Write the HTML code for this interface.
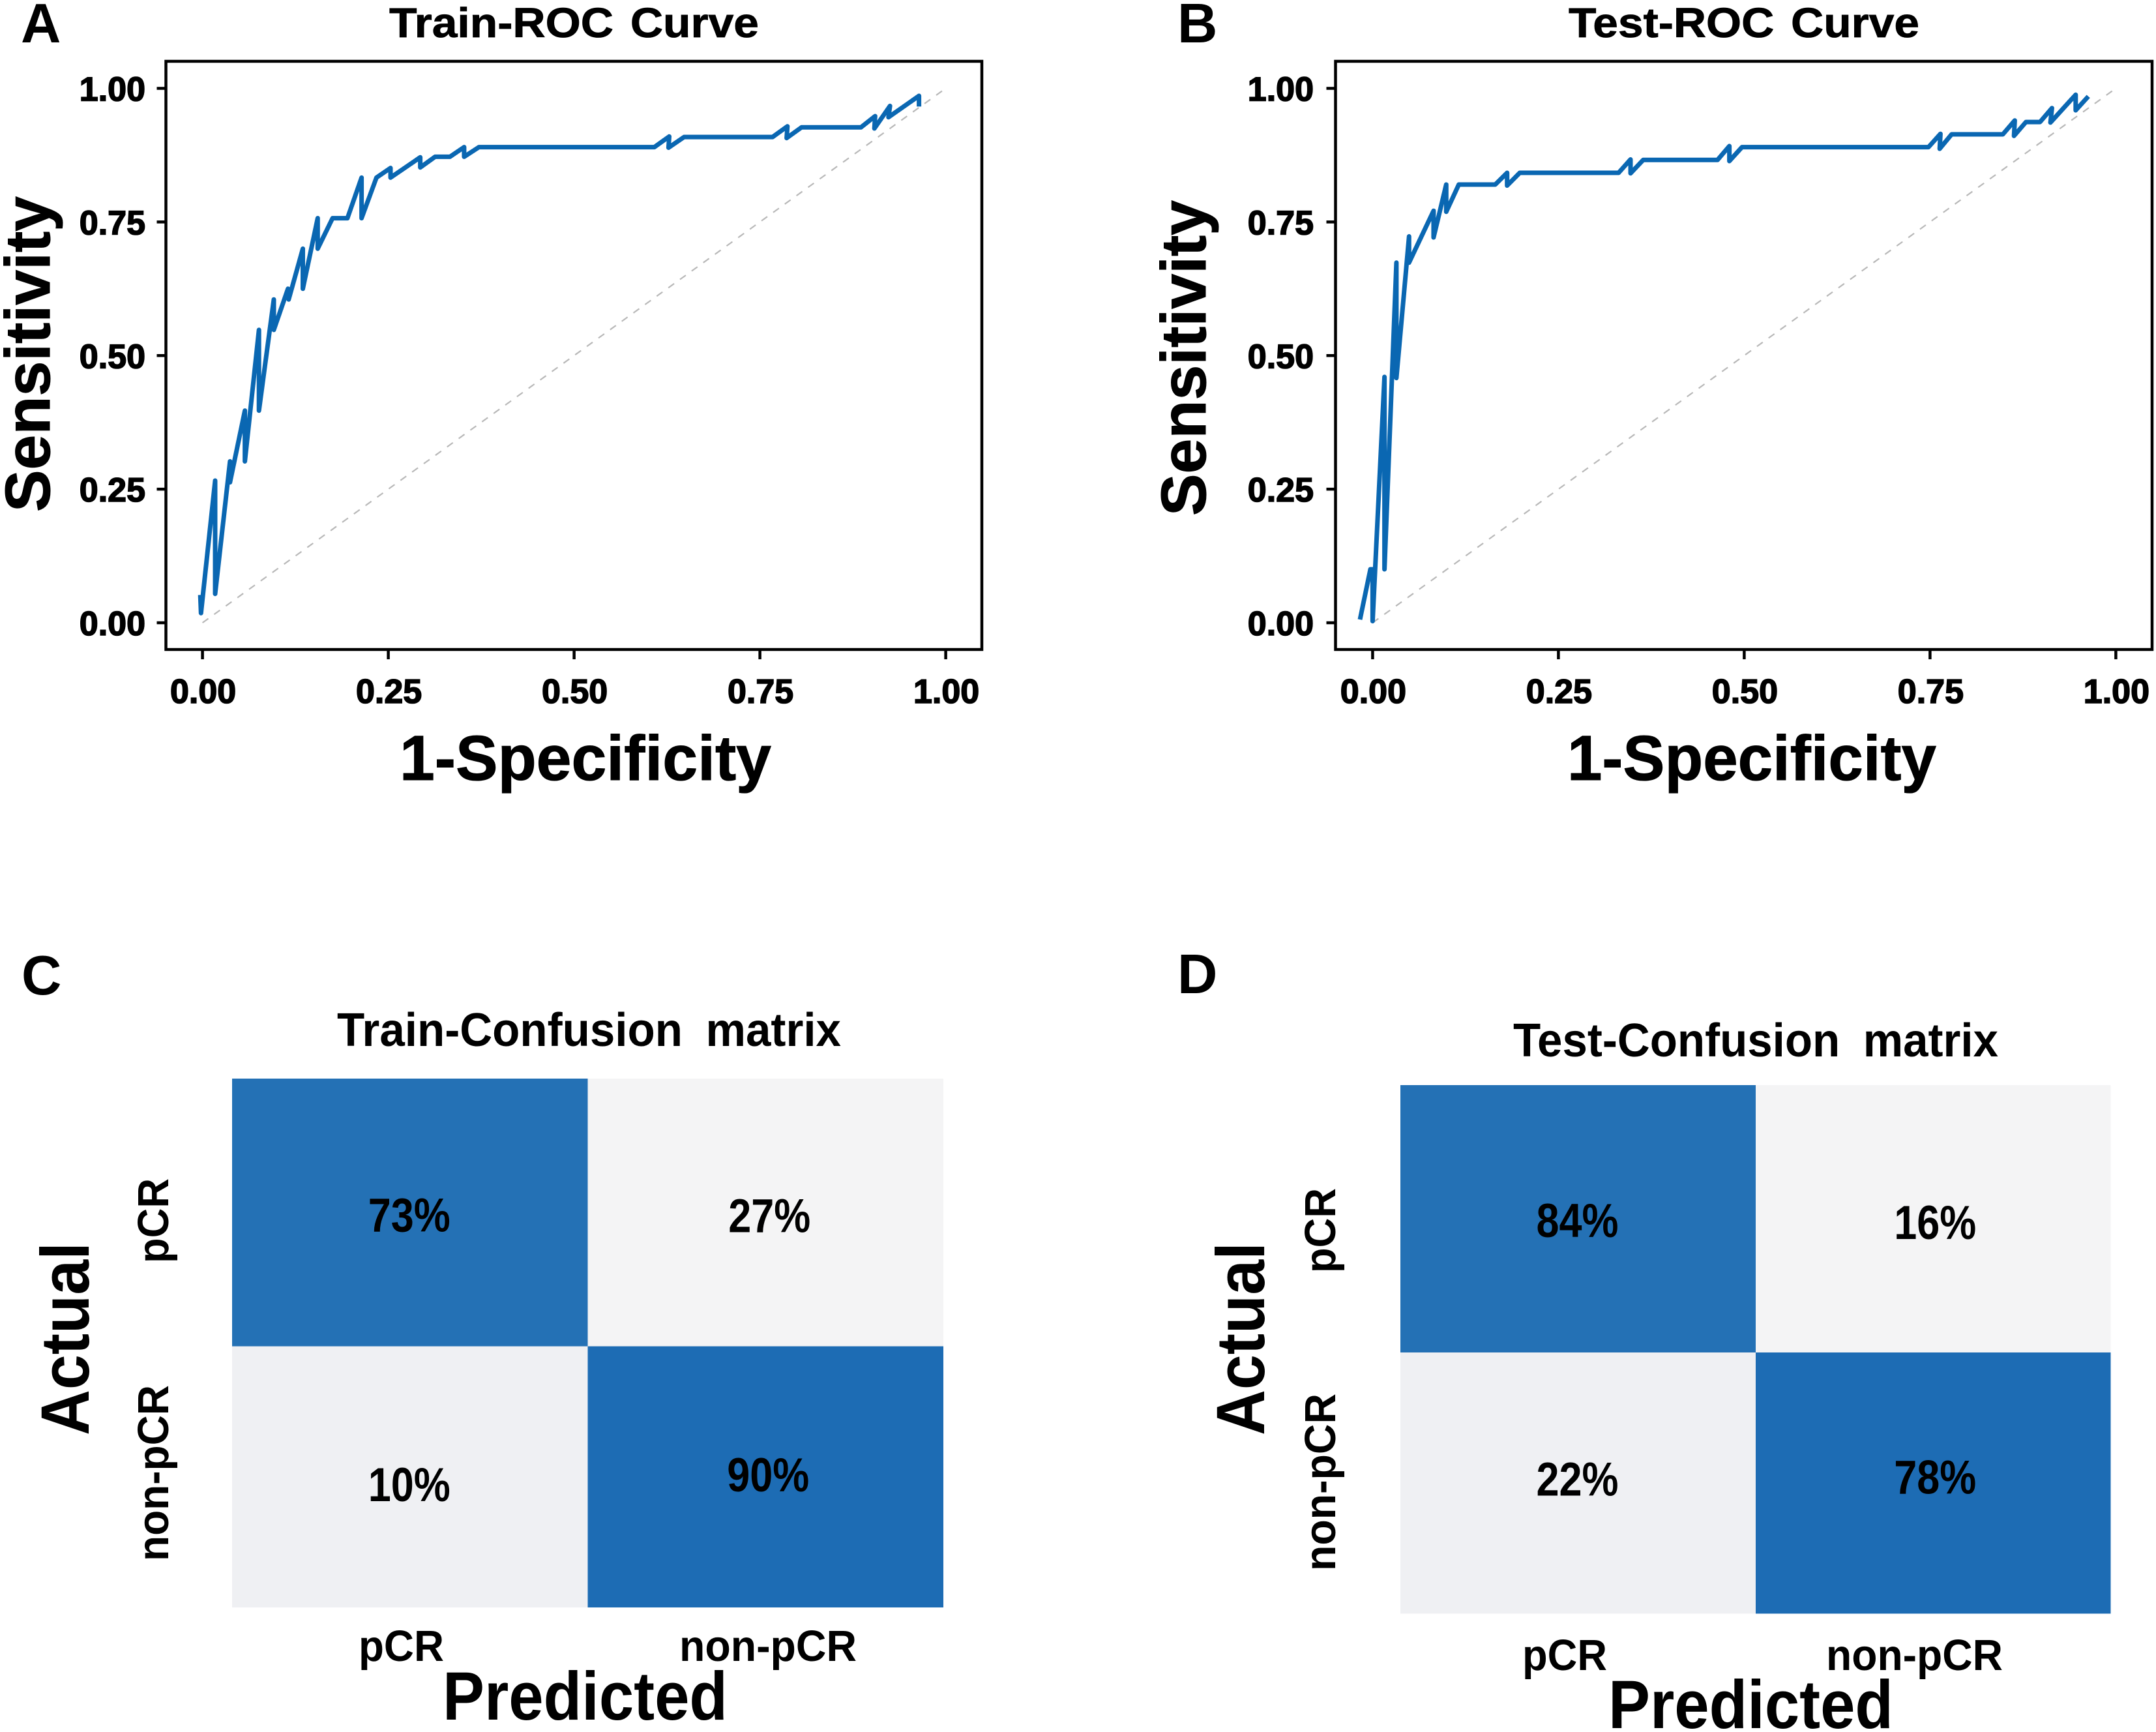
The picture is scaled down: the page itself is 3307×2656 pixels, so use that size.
<!DOCTYPE html>
<html lang="en">
<head>
<meta charset="utf-8">
<title>ROC curves and confusion matrices</title>
<style>
html,body{margin:0;padding:0;background:#fff;width:3307px;height:2656px;overflow:hidden}
svg{display:block}
text{font-family:"Liberation Sans",sans-serif;font-weight:bold;fill:#000}
.tick{font-size:52px;stroke:#000;stroke-width:1.6px}
.title{font-size:64px;stroke:#000;stroke-width:.8px;word-spacing:6px}
.axis{font-size:97px;stroke:#000;stroke-width:1px}
.auc{font-size:79px;stroke:#000;stroke-width:1px}
.letter{font-size:85px}
.mtitle{font-size:72px;word-spacing:17px}
.cellv{font-size:73px}
.mlabel{font-size:67px}
.mx{font-size:105px}
</style>
</head>
<body>
<svg id="fig" xmlns="http://www.w3.org/2000/svg" width="3307" height="2656" viewBox="0 0 3307 2656">
  <rect x="0" y="0" width="3307" height="2656" fill="#fff"/>

  <text class="letter" x="32" y="65">A</text>
  <text class="letter" x="1806" y="65">B</text>
  <text class="letter" x="33" y="1525">C</text>
  <text class="letter" x="1806" y="1523">D</text>

  <text class="title" x="597" y="57" textLength="567" lengthAdjust="spacingAndGlyphs">Train-ROC Curve</text>
  <text class="title" x="2406" y="57" textLength="538" lengthAdjust="spacingAndGlyphs">Test-ROC Curve</text>

  <text class="axis" transform="translate(76,785) rotate(-90)" textLength="484" lengthAdjust="spacingAndGlyphs">Sensitivity</text>
  <text class="axis" transform="translate(1849,791) rotate(-90)" textLength="484" lengthAdjust="spacingAndGlyphs">Sensitivity</text>
  <text class="axis" x="613" y="1196" textLength="570" lengthAdjust="spacingAndGlyphs">1-Specificity</text>
  <text class="axis" x="2404" y="1196" textLength="566" lengthAdjust="spacingAndGlyphs">1-Specificity</text>

  <text class="auc" x="877" y="815" textLength="373" lengthAdjust="spacingAndGlyphs">AUC=0.82</text>
  <text class="auc" x="2674" y="827" textLength="373" lengthAdjust="spacingAndGlyphs">AUC=0.85</text>

  <text class="mtitle" x="517" y="1604" textLength="773" lengthAdjust="spacingAndGlyphs">Train-Confusion matrix</text>
  <text class="mtitle" x="2321" y="1620" textLength="744" lengthAdjust="spacingAndGlyphs">Test-Confusion matrix</text>

  <text class="mx" x="679" y="2637" textLength="437" lengthAdjust="spacingAndGlyphs">Predicted</text>
  <text class="mx" x="2467" y="2650" textLength="437" lengthAdjust="spacingAndGlyphs">Predicted</text>
  <text class="mx" transform="translate(136,2201) rotate(-90)" textLength="296" lengthAdjust="spacingAndGlyphs">Actual</text>
  <text class="mx" transform="translate(1939,2201) rotate(-90)" textLength="296" lengthAdjust="spacingAndGlyphs">Actual</text>

  <text class="mlabel" x="550" y="2547" textLength="131" lengthAdjust="spacingAndGlyphs">pCR</text>
  <text class="mlabel" x="1042" y="2547" textLength="272" lengthAdjust="spacingAndGlyphs">non-pCR</text>
  <text class="mlabel" x="2335" y="2561" textLength="130" lengthAdjust="spacingAndGlyphs">pCR</text>
  <text class="mlabel" x="2801" y="2561" textLength="271" lengthAdjust="spacingAndGlyphs">non-pCR</text>
  <text class="mlabel" transform="translate(258,1937) rotate(-90)" textLength="130" lengthAdjust="spacingAndGlyphs">pCR</text>
  <text class="mlabel" transform="translate(258,2394) rotate(-90)" textLength="270" lengthAdjust="spacingAndGlyphs">non-pCR</text>
  <text class="mlabel" transform="translate(2048,1952) rotate(-90)" textLength="130" lengthAdjust="spacingAndGlyphs">pCR</text>
  <text class="mlabel" transform="translate(2048,2409) rotate(-90)" textLength="272" lengthAdjust="spacingAndGlyphs">non-pCR</text>

  <g id="marks"></g>
</svg>

<script>
// ---- chart data ----
const tickValues = [0, 0.25, 0.5, 0.75, 1];
const tickLabels = ["0.00", "0.25", "0.50", "0.75", "1.00"];

const trainFpr = [-0.003,-0.002,0.017,0.017,0.037,0.037,0.057,0.057,0.076,0.076,0.096,0.096,0.115,0.116,0.135,0.135,0.155,0.155,0.175,0.195,0.214,0.214,0.234,0.253,0.253,0.293,0.293,0.313,0.333,0.352,0.352,0.372,0.608,0.628,0.627,0.648,0.767,0.787,0.786,0.806,0.886,0.905,0.904,0.925,0.923,0.964,0.964];
const trainTpr = [0.052,0.018,0.266,0.054,0.302,0.263,0.397,0.302,0.548,0.397,0.605,0.548,0.625,0.605,0.700,0.625,0.757,0.700,0.757,0.757,0.833,0.757,0.833,0.851,0.833,0.871,0.852,0.872,0.872,0.890,0.872,0.890,0.890,0.910,0.889,0.909,0.909,0.929,0.907,0.927,0.927,0.948,0.925,0.967,0.946,0.986,0.966];

const testFpr = [-0.017,-0.003,0.000,0.000,0.016,0.016,0.032,0.032,0.049,0.049,0.082,0.082,0.099,0.099,0.116,0.165,0.181,0.181,0.198,0.331,0.347,0.347,0.364,0.464,0.480,0.480,0.497,0.748,0.764,0.763,0.779,0.848,0.864,0.863,0.879,0.898,0.914,0.912,0.946,0.946,0.963];
const testTpr = [0.006,0.100,0.100,0.003,0.460,0.100,0.674,0.458,0.723,0.674,0.771,0.721,0.820,0.769,0.820,0.820,0.842,0.818,0.842,0.842,0.867,0.841,0.866,0.866,0.892,0.864,0.890,0.890,0.915,0.887,0.914,0.914,0.940,0.911,0.937,0.937,0.963,0.936,0.988,0.959,0.985];

const trainMatrixValues = [73, 27, 10, 90];
const testMatrixValues = [84, 16, 22, 78];

// ---- layout ----
const rocA = {frame:[254.5,94,1506,996], x0:310.6, x1:1450.6, y0:955, y1:135.5, yLabelRight:223};
const rocB = {frame:[2048.5,94,3301,996], x0:2105.4, x1:3245.4, y0:955, y1:135.5, yLabelRight:2015};
const matC = {xs:[356,901.5,1447], ys:[1654,2064.5,2465], dx:[-1,6,-1,4], base:[29,30,37,22]};
const matD = {xs:[2148,2693,3237.5], ys:[1664,2074,2474.5], dx:[-1,3,-1,3], base:[28,31,19,16]};

const NS = "http://www.w3.org/2000/svg";
const marks = document.getElementById("marks");

function make(tag, attrs, text) {
  const el = document.createElementNS(NS, tag);
  for (const k in attrs) el.setAttribute(k, attrs[k]);
  if (text !== undefined) el.textContent = text;
  marks.appendChild(el);
  return el;
}

function xScale(p, v) { return p.x0 + v * (p.x1 - p.x0); }
function yScale(p, v) { return p.y0 + v * (p.y1 - p.y0); }

function drawRoc(p, prefix, fpr, tpr) {
  const f = p.frame;
  const frame = make("rect", {x:f[0], y:f[1], width:f[2]-f[0], height:f[3]-f[1], fill:"#fff", stroke:"#000", "stroke-width":4.5});
  
  

  tickValues.forEach(function (v, i) {
    const tx = make("line", {x1:xScale(p,v), x2:xScale(p,v), y1:f[3], y2:f[3]+15, stroke:"#000", "stroke-width":4.5});
    
    
    const lx = make("text", {class:"tick", x:xScale(p,v)+1, y:1078, "text-anchor":"middle"}, tickLabels[i]);
    
    
    const ty = make("line", {x1:f[0]-14, x2:f[0], y1:yScale(p,v), y2:yScale(p,v), stroke:"#000", "stroke-width":4.5});
    
    
    const ly = make("text", {class:"tick", x:p.yLabelRight, y:yScale(p,v)+19, "text-anchor":"end"}, tickLabels[i]);
    
    
  });

  const diag = make("line", {x1:xScale(p,0), y1:yScale(p,0), x2:xScale(p,1), y2:yScale(p,1), stroke:"#b8b8b8", "stroke-width":2.2, "stroke-dasharray":"11 11"});
  
  

  const pts = fpr.map(function (v, i) { return xScale(p, v).toFixed(1) + "," + yScale(p, tpr[i]).toFixed(1); }).join(" ");
  const curve = make("polyline", {points:pts, fill:"none", stroke:"#0a67b2", "stroke-width":7, "stroke-linejoin":"round", "stroke-linecap":"butt"});
  
  
}

function cellFill(v, row) {
  if (v >= 50) return row === 0 ? "#2471b5" : "#1d6cb4";
  return row === 0 ? "#f4f4f5" : "#eff0f3";
}

function drawMatrix(m, prefix, values) {
  values.forEach(function (v, i) {
    const r = Math.floor(i / 2), c = i % 2;
    const cell = make("rect", {x:m.xs[c], y:m.ys[r], width:m.xs[c+1]-m.xs[c], height:m.ys[r+1]-m.ys[r], fill:cellFill(v, r)});
    
    
  });
  values.forEach(function (v, i) {
    const r = Math.floor(i / 2), c = i % 2;
    const cx = (m.xs[c] + m.xs[c+1]) / 2 + m.dx[i];
    const cy = (m.ys[r] + m.ys[r+1]) / 2 + m.base[i];
    const t = make("text", {class:"cellv", x:cx-63, y:cy, textLength:126, lengthAdjust:"spacingAndGlyphs"}, v + "%");
    
    
  });
}

drawRoc(rocA, "train", trainFpr, trainTpr);
drawRoc(rocB, "test", testFpr, testTpr);
drawMatrix(matC, "train", trainMatrixValues);
drawMatrix(matD, "test", testMatrixValues);
</script>
</body>
</html>
